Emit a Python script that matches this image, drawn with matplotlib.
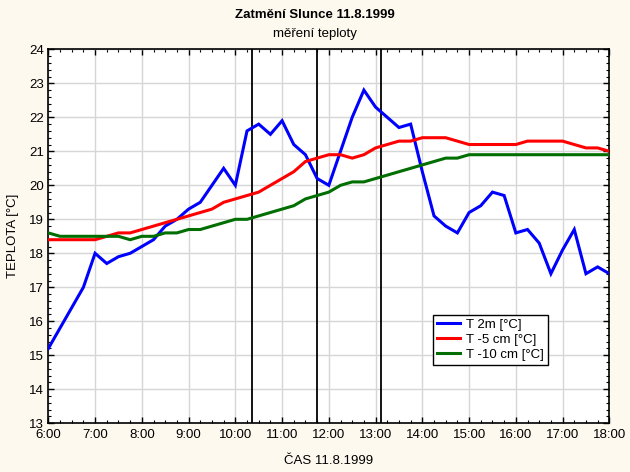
import matplotlib
matplotlib.use("Agg")
import matplotlib.pyplot as plt
import matplotlib.ticker as mtick

plt.rcParams['font.family'] = ['Liberation Sans', 'DejaVu Sans']

# --- data ---
quarter_times = ['6:00', '6:15', '6:30', '6:45', '7:00', '7:15', '7:30', '7:45',
                 '8:00', '8:15', '8:30', '8:45', '9:00', '9:15', '9:30', '9:45',
                 '10:00', '10:15', '10:30', '10:45', '11:00', '11:15', '11:30', '11:45',
                 '12:00', '12:15', '12:30', '12:45', '13:00', '13:15', '13:30', '13:45',
                 '14:00', '14:15', '14:30', '14:45', '15:00', '15:15', '15:30', '15:45',
                 '16:00', '16:15', '16:30', '16:45', '17:00', '17:15', '17:30', '17:45',
                 '18:00']
t_2m_times = ['6:00', '6:45'] + quarter_times[4:]

t_2m = [15.2, 17.0, 18.0, 17.7, 17.9, 18.0, 18.2, 18.4, 18.8, 19.0, 19.3, 19.5,
        20.0, 20.5, 20.0, 21.6, 21.8, 21.5, 21.9, 21.2, 20.9, 20.2, 20.0, 21.0,
        22.0, 22.8, 22.3, 22.0, 21.7, 21.8, 20.4, 19.1, 18.8, 18.6, 19.2, 19.4,
        19.8, 19.7, 18.6, 18.7, 18.3, 17.4, 18.1, 18.7, 17.4, 17.6, 17.4]
t_5cm = [18.4, 18.4, 18.4, 18.4, 18.4, 18.5, 18.6, 18.6, 18.7, 18.8, 18.9, 19.0,
         19.1, 19.2, 19.3, 19.5, 19.6, 19.7, 19.8, 20.0, 20.2, 20.4, 20.7, 20.8,
         20.9, 20.9, 20.8, 20.9, 21.1, 21.2, 21.3, 21.3, 21.4, 21.4, 21.4, 21.3,
         21.2, 21.2, 21.2, 21.2, 21.2, 21.3, 21.3, 21.3, 21.3, 21.2, 21.1, 21.1,
         21.0]
t_10cm = [18.6, 18.5, 18.5, 18.5, 18.5, 18.5, 18.5, 18.4, 18.5, 18.5, 18.6, 18.6,
          18.7, 18.7, 18.8, 18.9, 19.0, 19.0, 19.1, 19.2, 19.3, 19.4, 19.6, 19.7,
          19.8, 20.0, 20.1, 20.1, 20.2, 20.3, 20.4, 20.5, 20.6, 20.7, 20.8, 20.8,
          20.9, 20.9, 20.9, 20.9, 20.9, 20.9, 20.9, 20.9, 20.9, 20.9, 20.9, 20.9,
          20.9]
eclipse_times = ['10:22', '11:45', '13:07']  # contacts (CET)

labels = ['T 2m [°C]', 'T -5 cm [°C]', 'T -10 cm [°C]']
colors = ['#0000ff', '#ff0000', '#006e00']


def to_hours(s):
	h, m = s.split(':')
	return int(h) + int(m) / 60.0


def hour_fmt(x, pos):
	h = int(round(x * 60)) // 60
	m = int(round(x * 60)) % 60
	return '%d:%02d' % (h, m)


bg = '#fdf9ef'
fig = plt.figure(figsize=(6.3, 4.72), dpi=100, facecolor=bg)
ax = fig.add_axes([0.0767, 0.1032, 0.8905, 0.7923])
ax.set_facecolor('white')

ax.set_axisbelow(True)
ax.grid(which='major', color='#d6d6d6', linewidth=1.0)

for t in eclipse_times:
	ax.axvline(to_hours(t), color='black', linewidth=1.3, zorder=3)

series = [(t_2m_times, t_2m), (quarter_times, t_5cm), (quarter_times, t_10cm)]
for (times, vals), lab, col in zip(series, labels, colors):
	ax.plot([to_hours(t) for t in times], vals, color=col, linewidth=2.2,
	        label=lab, zorder=4, solid_joinstyle='miter')

ax.set_xlim(6, 18)
ax.set_ylim(13, 24)
ax.xaxis.set_major_locator(mtick.MultipleLocator(1))
ax.xaxis.set_minor_locator(mtick.MultipleLocator(0.25))
ax.xaxis.set_major_formatter(mtick.FuncFormatter(hour_fmt))
ax.yaxis.set_major_locator(mtick.MultipleLocator(1))
ax.yaxis.set_minor_locator(mtick.MultipleLocator(0.2))

ax.tick_params(which='both', direction='in', top=True, right=True,
               color='black', labelsize=9.5, labelcolor='black')
ax.tick_params(which='major', length=4, width=1)
ax.tick_params(which='minor', length=2, width=0.8)
ax.tick_params(axis='x', pad=4)
ax.tick_params(axis='y', pad=3)
for sp in ax.spines.values():
	sp.set_linewidth(1.2)
	sp.set_color('black')

ax.set_xlabel('ČAS 11.8.1999', fontsize=9.5)
ax.set_ylabel('TEPLOTA [°C]', fontsize=9.5)
ax.xaxis.set_label_coords(0.5, -0.086)
ax.yaxis.set_label_coords(-0.053, 0.5)

fig.text(0.5, 0.968, 'Zatmění Slunce 11.8.1999', ha='center', va='center',
         fontsize=9.5, fontweight='bold')
fig.text(0.5, 0.928, 'měření teploty', ha='center', va='center', fontsize=9.5)

leg = ax.legend(loc='upper left', bbox_to_anchor=(0.686, 0.29), fontsize=9.5,
                frameon=True, fancybox=False, edgecolor='black', framealpha=1,
                handlelength=1.7, handletextpad=0.5, borderpad=0.3,
                labelspacing=0.2, borderaxespad=0)
leg.get_frame().set_linewidth(1.0)

fig.savefig('out.png', dpi=100, facecolor=bg)
